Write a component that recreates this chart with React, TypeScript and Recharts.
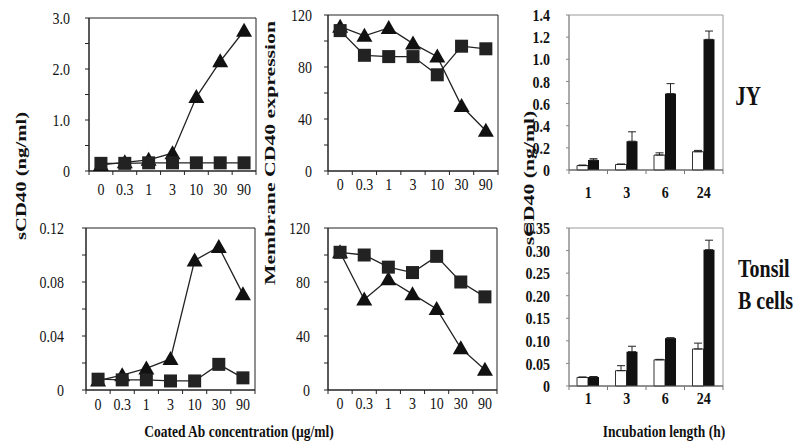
import type { CSSProperties } from 'react'
import {
  LineChart,
  Line,
  BarChart,
  Bar,
  XAxis,
  YAxis,
  ReferenceArea,
  ErrorBar,
} from 'recharts'

const FONT = '"Liberation Serif", "Times New Roman", serif'
const TEXT_STRETCH = 1.25

// coated antibody concentrations (ug/ml)
const concLabels = ['0', '0.3', '1', '3', '10', '30', '90']

// JY cells
const jySolTri = [0.12, 0.17, 0.22, 0.35, 1.45, 2.15, 2.75]
const jySolSq = [0.15, 0.15, 0.16, 0.16, 0.16, 0.16, 0.16]
const jyMemTri = [111, 104, 110, 98, 88, 50, 31]
const jyMemSq = [108, 89, 88, 88, 74, 96, 94]

// tonsil B cells
const tbSolTri = [0.007, 0.011, 0.016, 0.023, 0.096, 0.106, 0.071]
const tbSolSq = [0.008, 0.0075, 0.0075, 0.0067, 0.0067, 0.019, 0.009]
const tbMemTri = [102, 67, 82, 71, 60, 31, 15]
const tbMemSq = [102, 100, 91, 87, 99, 80, 69]

// incubation time course
const hours = ['1', '3', '6', '24']
const jyWhite = [0.04, 0.05, 0.135, 0.165]
const jyWhiteErr = [0.005, 0.004, 0.02, 0.012]
const jyBlack = [0.09, 0.26, 0.69, 1.18]
const jyBlackErr = [0.012, 0.085, 0.09, 0.075]
const tbWhite = [0.019, 0.034, 0.058, 0.082]
const tbWhiteErr = [0.001, 0.011, 0.001, 0.013]
const tbBlack = [0.02, 0.076, 0.106, 0.302]
const tbBlackErr = [0.001, 0.012, 0.001, 0.021]

// axis ticks
const solJyTicks = [0, 0.5, 1, 1.5, 2, 2.5, 3]
const solJyLabels = ['0', '', '1.0', '', '2.0', '', '3.0']
const solTbTicks = [0, 0.02, 0.04, 0.06, 0.08, 0.1, 0.12]
const solTbLabels = ['0', '', '0.04', '', '0.08', '', '0.12']
const memTicks = [0, 20, 40, 60, 80, 100, 120]
const memLabels = ['0', '', '40', '', '80', '', '120']
const barJyTicks = [0, 0.2, 0.4, 0.6, 0.8, 1.0, 1.2, 1.4]
const barJyLabels = ['0', '0.2', '0.4', '0.6', '0.8', '1.0', '1.2', '1.4']
const barTbTicks = [0, 0.05, 0.1, 0.15, 0.2, 0.25, 0.3, 0.35]
const barTbLabels = ['0', '0.05', '0.10', '0.15', '0.20', '0.25', '0.30', '0.35']

type Box = { x0: number; y0: number; x1: number; y1: number }

function TickText({
  x,
  y,
  text,
  anchor = 'middle',
  size = 14,
  bold = false,
}: {
  x: number
  y: number
  text: string
  anchor?: 'start' | 'middle' | 'end'
  size?: number
  bold?: boolean
}) {
  return (
    <text
      transform={`translate(${x},${y}) scale(1,${TEXT_STRETCH})`}
      textAnchor={anchor}
      dominantBaseline="central"
      fontFamily={FONT}
      fontSize={size}
      fontWeight={bold ? 700 : 400}
      fill="#111"
    >
      {text}
    </text>
  )
}

const triDot = (p: any) => (
  <polygon
    key={`t${p.index}`}
    points={`${p.cx},${p.cy - 8} ${p.cx - 8},${p.cy + 6} ${p.cx + 8},${p.cy + 6}`}
    fill="#111"
  />
)

const sqDot = (p: any) => (
  <rect key={`s${p.index}`} x={p.cx - 6.5} y={p.cy - 6.5} width={13} height={13} fill="#222" />
)

interface LinePanelProps {
  box: Box
  tri: number[]
  sq: number[]
  yTicks: number[]
  yLabels: string[]
  yGap: number
  xLabelDy: number
}

function LinePanel({ box, tri, sq, yTicks, yLabels, yGap, xLabelDy }: LinePanelProps) {
  const data = concLabels.map((c, i) => ({ i, c, tri: tri[i], sq: sq[i] }))
  const xTicks = concLabels.flatMap((_, i) => [i - 0.5, i]).concat([concLabels.length - 0.5])
  const yMax = yTicks[yTicks.length - 1]
  const yW = 70
  const xH = xLabelDy + 14
  const mt = 10
  const mr = 4
  const M = 10
  const w = box.x1 - box.x0
  const h = box.y1 - box.y0
  const style: CSSProperties = { position: 'absolute', left: box.x0 - yW, top: box.y0 - mt }

  return (
    <div style={style}>
      <LineChart
        width={w + yW + mr}
        height={h + mt + xH}
        data={data}
        margin={{ top: mt, right: mr, bottom: 0, left: 0 }}
      >
        <ReferenceArea y1={0} y2={yMax} fill="none" stroke="#222" ifOverflow="visible" />
        <XAxis
          type="number"
          dataKey="i"
          domain={[-0.5, concLabels.length - 0.5]}
          ticks={xTicks}
          interval={0}
          height={xH}
          tickSize={0}
          tickMargin={M}
          tickLine={false}
          stroke="#222"
          tick={(p: any) => {
            const v = p.payload.value
            const axisY = p.y - M
            if (Number.isInteger(v)) {
              return <TickText x={p.x} y={axisY + xLabelDy} text={concLabels[v]} />
            }
            return <line x1={p.x} x2={p.x} y1={axisY} y2={axisY + 4} stroke="#222" />
          }}
        />
        <YAxis
          type="number"
          domain={[0, yMax]}
          ticks={yTicks}
          interval={0}
          width={yW}
          tickSize={4}
          tickMargin={yGap - 4}
          stroke="#222"
          tick={(p: any) => (
            <TickText x={p.x} y={p.y} text={yLabels[p.index] ?? ''} anchor="end" />
          )}
        />
        <Line
          dataKey="tri"
          stroke="#222"
          strokeWidth={1.3}
          dot={triDot}
          activeDot={false}
          isAnimationActive={false}
        />
        <Line
          dataKey="sq"
          stroke="#222"
          strokeWidth={1.3}
          dot={sqDot}
          activeDot={false}
          isAnimationActive={false}
        />
      </LineChart>
    </div>
  )
}

interface BarPanelProps {
  box: Box
  white: number[]
  whiteErr: number[]
  black: number[]
  blackErr: number[]
  yTicks: number[]
  yLabels: string[]
  yGap: number
  xLabelDy: number
}

function BarPanel({ box, white, whiteErr, black, blackErr, yTicks, yLabels, yGap, xLabelDy }: BarPanelProps) {
  const data = hours.map((hr, i) => ({
    hr,
    white: white[i],
    whiteErr: [0, whiteErr[i]],
    black: black[i],
    blackErr: [0, blackErr[i]],
  }))
  const yMax = yTicks[yTicks.length - 1]
  const yW = 70
  const xH = xLabelDy + 14
  const mt = 10
  const mr = 4
  const M = 10
  const w = box.x1 - box.x0
  const h = box.y1 - box.y0
  const bw = w / hours.length
  const style: CSSProperties = { position: 'absolute', left: box.x0 - yW, top: box.y0 - mt }

  return (
    <div style={style}>
      <BarChart
        width={w + yW + mr}
        height={h + mt + xH}
        data={data}
        barGap={0}
        margin={{ top: mt, right: mr, bottom: 0, left: 0 }}
      >
        <ReferenceArea y1={0} y2={yMax} fill="none" stroke="#9a9a9a" ifOverflow="visible" />
        <XAxis
          dataKey="hr"
          interval={0}
          height={xH}
          tickSize={0}
          tickMargin={M}
          tickLine={false}
          stroke="#555"
          tick={(p: any) => {
            const axisY = p.y - M
            return (
              <g>
                <line x1={p.x - bw / 2} x2={p.x - bw / 2} y1={axisY} y2={axisY + 4} stroke="#777" />
                {p.index === hours.length - 1 && (
                  <line x1={p.x + bw / 2} x2={p.x + bw / 2} y1={axisY} y2={axisY + 4} stroke="#777" />
                )}
                <TickText x={p.x} y={axisY + xLabelDy} text={hours[p.index]} bold />
              </g>
            )
          }}
        />
        <YAxis
          type="number"
          domain={[0, yMax]}
          ticks={yTicks}
          interval={0}
          width={yW}
          tickSize={3}
          tickMargin={yGap - 3}
          stroke="#888"
          tick={(p: any) => (
            <TickText x={p.x} y={p.y} text={yLabels[p.index] ?? ''} anchor="end" bold />
          )}
        />
        <Bar dataKey="white" fill="#fff" stroke="#333" strokeWidth={1} barSize={11} isAnimationActive={false}>
          <ErrorBar dataKey="whiteErr" width={4} stroke="#222" strokeWidth={1} />
        </Bar>
        <Bar dataKey="black" fill="#111" barSize={11} isAnimationActive={false}>
          <ErrorBar dataKey="blackErr" width={4} stroke="#222" strokeWidth={1} />
        </Bar>
      </BarChart>
    </div>
  )
}

function VLabel({ x, y, text, stretch }: { x: number; y: number; text: string; stretch: number }) {
  return (
    <div
      style={{
        position: 'absolute',
        left: x,
        top: y,
        transform: `translate(-50%, -50%) rotate(-90deg) scaleX(${stretch})`,
        fontFamily: FONT,
        fontWeight: 700,
        fontSize: 15,
        whiteSpace: 'nowrap',
        color: '#111',
      }}
    >
      {text}
    </div>
  )
}

function HLabel({ x, y, text, size = 14, anchor = 'center' }: { x: number; y: number; text: string; size?: number; anchor?: 'center' | 'left' }) {
  return (
    <div
      style={{
        position: 'absolute',
        left: x,
        top: y,
        transform: `translate(${anchor === 'center' ? '-50%' : '0'}, -50%) scaleY(${TEXT_STRETCH})`,
        fontFamily: FONT,
        fontWeight: 700,
        fontSize: size,
        whiteSpace: 'nowrap',
        color: '#111',
        lineHeight: 1,
      }}
    >
      {text}
    </div>
  )
}

export default function App() {
  return (
    <div
      style={{
        position: 'absolute',
        left: 0,
        top: 0,
        width: 802,
        height: 443,
        background: '#fff',
        overflow: 'hidden',
      }}
    >
      <LinePanel box={{ x0: 89, y0: 18, x1: 256, y1: 171 }} tri={jySolTri} sq={jySolSq} yTicks={solJyTicks} yLabels={solJyLabels} yGap={19} xLabelDy={18} />
      <LinePanel box={{ x0: 328, y0: 15, x1: 498, y1: 171 }} tri={jyMemTri} sq={jyMemSq} yTicks={memTicks} yLabels={memLabels} yGap={16} xLabelDy={13} />
      <BarPanel box={{ x0: 569, y0: 15, x1: 723, y1: 170 }} white={jyWhite} whiteErr={jyWhiteErr} black={jyBlack} blackErr={jyBlackErr} yTicks={barJyTicks} yLabels={barJyLabels} yGap={19} xLabelDy={22} />

      <LinePanel box={{ x0: 86, y0: 228, x1: 255, y1: 390 }} tri={tbSolTri} sq={tbSolSq} yTicks={solTbTicks} yLabels={solTbLabels} yGap={22} xLabelDy={14} />
      <LinePanel box={{ x0: 328, y0: 228, x1: 497, y1: 390 }} tri={tbMemTri} sq={tbMemSq} yTicks={memTicks} yLabels={memLabels} yGap={18} xLabelDy={13} />
      <BarPanel box={{ x0: 569, y0: 228, x1: 723, y1: 386 }} white={tbWhite} whiteErr={tbWhiteErr} black={tbBlack} blackErr={tbBlackErr} yTicks={barTbTicks} yLabels={barTbLabels} yGap={19} xLabelDy={12} />

      <VLabel x={21} y={176} text="sCD40 (ng/ml)" stretch={1.38} />
      <VLabel x={270} y={153} text="Membrane CD40 expression" stretch={1.45} />
      <VLabel x={529} y={178} text="sCD40 (ng/ml)" stretch={1.45} />

      <HLabel x={239} y={432} text="Coated Ab concentration (µg/ml)" size={13.5} />
      <HLabel x={664} y={432} text="Incubation length (h)" size={13.5} />

      <HLabel x={748} y={97} text="JY" size={21} />
      <HLabel x={738} y={268} text="Tonsil" size={20} anchor="left" />
      <HLabel x={738} y={300} text="B cells" size={20} anchor="left" />
    </div>
  )
}
